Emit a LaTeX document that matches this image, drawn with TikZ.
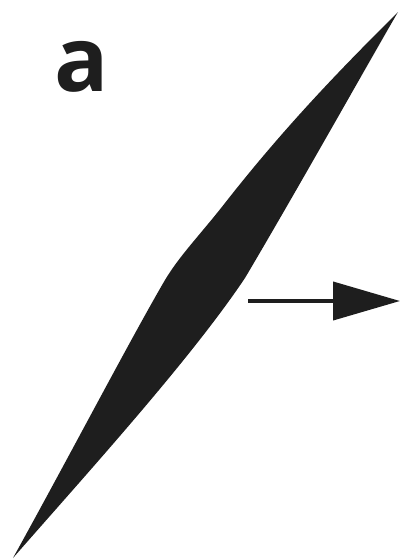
\documentclass[tikz,border=0pt]{standalone}
\usepackage{fontspec}
\setmainfont{Open Sans}
\usepackage{xcolor}
\usepackage{tikz}
\usetikzlibrary{arrows.meta,positioning}
\definecolor{ink}{HTML}{1E1E1E}
\tikzset{
  lens/.style={fill=ink,draw=none},
  tag/.style={font=\fontsize{90}{90}\selectfont\bfseries,text=ink,inner sep=0pt},
  arrow/.style={-{Triangle[length=67pt,width=38pt]},line width=4pt,color=ink},
}
\begin{document}
\begin{tikzpicture}[x=1pt,y=-1pt]
    \useasboundingbox (0,0) rectangle (406,560);
    % spindle, left edge up then right edge down
    \fill[lens] (13,558) .. controls (70,455) and (130,340) .. (165,280)
      .. controls (180,255) and (200,235) .. (225,203)
      .. controls (290,120) and (350,60) .. (398,12)
      .. controls (370,60) and (300,185) .. (245,278)
      .. controls (190,360) and (90,470) .. (13,558) -- cycle;
    \node[tag] (a) at (82,67) {a};
    \coordinate (tail) at (248,301);
    \coordinate (head) at (400,301);
    \draw[arrow] (tail) -- (head);
  \end{tikzpicture}
\end{document}
